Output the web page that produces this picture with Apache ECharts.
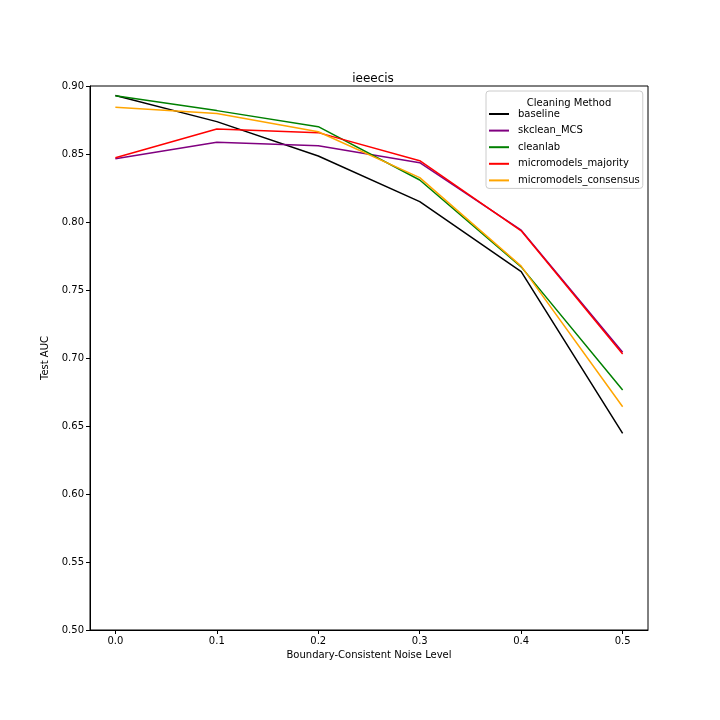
<!DOCTYPE html>
<html>
<head>
<meta charset="utf-8">
<script src="https://cdn.jsdelivr.net/npm/echarts@6/dist/echarts.min.js"></script>
<style>
  html, body { margin: 0; padding: 0; background: #fff; }
  #main { width: 720px; height: 720px; }
</style>
</head>
<body>
<div id="main"></div>
<script>
// noise levels on the x axis
var noiseLevels = [0.0, 0.1, 0.2, 0.3, 0.4, 0.5];
var xTicks = [0.0, 0.1, 0.2, 0.3, 0.4, 0.5];

// test AUC per cleaning method
var baseline = [0.893, 0.8738, 0.8485, 0.8150, 0.7635, 0.6446];
var skcleanMCS = [0.8465, 0.8586, 0.8561, 0.8436, 0.7940, 0.7042];
var cleanlab = [0.8929, 0.8819, 0.8701, 0.8309, 0.7670, 0.6765];
var mmMajority = [0.8472, 0.8684, 0.8657, 0.8451, 0.7935, 0.7029];
var mmConsensus = [0.8843, 0.8797, 0.8664, 0.8326, 0.7676, 0.6642];

var font = 'DejaVu Sans';

function pairs(vals) {
  return noiseLevels.map(function (x, i) { return [x, vals[i]]; });
}

function mkSeries(name, vals, color) {
  return {
    name: name,
    type: 'line',
    data: pairs(vals),
    symbol: 'none',
    showSymbol: false,
    color: color,
    lineStyle: { color: color, width: 1.5 },
    animation: false
  };
}

var chart = echarts.init(document.getElementById('main'));
chart.setOption({
  backgroundColor: '#fff',
  animation: false,
  title: [{
    text: 'ieeecis',
    left: 368,
    top: 68,
    textAlign: 'center',
    textStyle: { fontFamily: font, fontSize: 12, fontWeight: 'normal', color: '#000' }
  }, {
    text: 'Cleaning Method',
    left: 564,
    top: 93,
    textAlign: 'center',
    textStyle: { fontFamily: font, fontSize: 10, fontWeight: 'normal', color: '#000' }
  }],
  legend: {
    orient: 'vertical',
    left: 486,
    top: 91,
    padding: [18, 3, 3, 3],
    itemGap: 6.6,
    itemWidth: 20,
    itemHeight: 2,
    icon: 'rect',
    backgroundColor: 'rgba(255,255,255,0.8)',
    borderColor: '#ccc',
    borderWidth: 1,
    borderRadius: 3,
    textStyle: { fontFamily: font, fontSize: 10, color: '#000', padding: [0, 0, 0, 4] },
    data: ['baseline', 'skclean_MCS', 'cleanlab', 'micromodels_majority', 'micromodels_consensus']
  },
  grid: {
    left: 90,
    right: 72,
    top: 86,
    bottom: 90,
    show: true,
    borderColor: '#000',
    borderWidth: 1
  },
  xAxis: {
    type: 'value',
    min: -0.025,
    max: 0.525,
    name: 'Boundary-Consistent Noise Level',
    nameLocation: 'middle',
    nameGap: 20,
    nameTextStyle: { fontFamily: font, fontSize: 10, color: '#000' },
    axisLine: { show: true, onZero: false, lineStyle: { color: '#000', width: 1 } },
    axisTick: { show: true, inside: false, length: 4, lineStyle: { color: '#000' }, customValues: xTicks },
    axisLabel: {
      fontFamily: font, fontSize: 10, color: '#000', margin: 6,
      customValues: xTicks,
      formatter: function (v) { return v.toFixed(1); }
    },
    splitLine: { show: false }
  },
  yAxis: {
    type: 'value',
    min: 0.5,
    max: 0.9,
    interval: 0.05,
    name: 'Test AUC',
    nameLocation: 'middle',
    nameGap: 32,
    nameTextStyle: { fontFamily: font, fontSize: 10, color: '#000' },
    axisLine: { show: true, onZero: false, lineStyle: { color: '#000', width: 1 } },
    axisTick: { show: true, inside: false, length: 4, lineStyle: { color: '#000' } },
    axisLabel: {
      fontFamily: font, fontSize: 10, color: '#000', margin: 6,
      formatter: function (v) { return v.toFixed(2); }
    },
    splitLine: { show: false }
  },
  series: [
    mkSeries('baseline', baseline, '#000000'),
    mkSeries('skclean_MCS', skcleanMCS, '#800080'),
    mkSeries('cleanlab', cleanlab, '#008000'),
    mkSeries('micromodels_majority', mmMajority, '#ff0000'),
    mkSeries('micromodels_consensus', mmConsensus, '#ffa500')
  ]
});
</script>
</body>
</html>
